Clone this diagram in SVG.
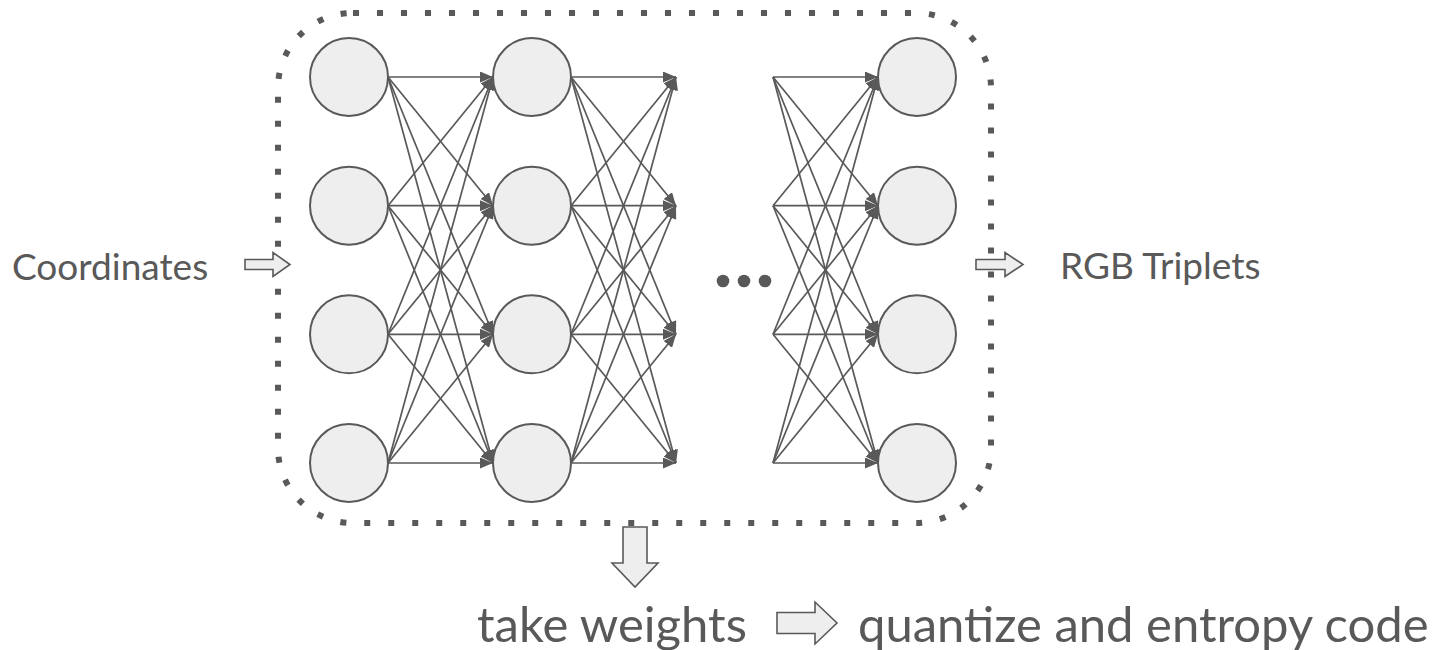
<svg xmlns="http://www.w3.org/2000/svg" width="1437" height="650" viewBox="0 0 1437 650">
<defs>
<marker id="ah" markerUnits="userSpaceOnUse" markerWidth="14" markerHeight="11" refX="13" refY="5.5" orient="auto">
<path d="M0,0 L13,5.5 L0,11 z" fill="#595959"/>
</marker>
<style>
.n{fill:#eeeeee;stroke:#595959;stroke-width:2}
.c line{stroke:#595959;stroke-width:1.7}
.a line{marker-end:url(#ah)}
.b{fill:#eeeeee;stroke:#595959;stroke-width:1.6;stroke-linejoin:miter}
.t{font-family:Lato,"Open Sans",sans-serif;fill:#595959}
</style>
</defs>
<rect width="1437" height="650" fill="#ffffff"/>
<g id="frame">
<rect x="278" y="13" width="713" height="510" rx="75" ry="75" fill="none" stroke="#595959" stroke-width="6" stroke-dasharray="6 18"/>
</g>
<g id="connectors" class="c">
<g class="a">
<line x1="388" y1="77" x2="493" y2="77"/><line x1="388" y1="77" x2="493" y2="205.7"/><line x1="388" y1="77" x2="493" y2="334.3"/><line x1="388" y1="77" x2="493" y2="463"/>
<line x1="388" y1="205.7" x2="493" y2="77"/><line x1="388" y1="205.7" x2="493" y2="205.7"/><line x1="388" y1="205.7" x2="493" y2="334.3"/><line x1="388" y1="205.7" x2="493" y2="463"/>
<line x1="388" y1="334.3" x2="493" y2="77"/><line x1="388" y1="334.3" x2="493" y2="205.7"/><line x1="388" y1="334.3" x2="493" y2="334.3"/><line x1="388" y1="334.3" x2="493" y2="463"/>
<line x1="388" y1="463" x2="493" y2="77"/><line x1="388" y1="463" x2="493" y2="205.7"/><line x1="388" y1="463" x2="493" y2="334.3"/><line x1="388" y1="463" x2="493" y2="463"/>
<line x1="571" y1="77" x2="676" y2="77"/><line x1="571" y1="77" x2="676" y2="205.7"/><line x1="571" y1="77" x2="676" y2="334.3"/><line x1="571" y1="77" x2="676" y2="463"/>
<line x1="571" y1="205.7" x2="676" y2="77"/><line x1="571" y1="205.7" x2="676" y2="205.7"/><line x1="571" y1="205.7" x2="676" y2="334.3"/><line x1="571" y1="205.7" x2="676" y2="463"/>
<line x1="571" y1="334.3" x2="676" y2="77"/><line x1="571" y1="334.3" x2="676" y2="205.7"/><line x1="571" y1="334.3" x2="676" y2="334.3"/><line x1="571" y1="334.3" x2="676" y2="463"/>
<line x1="571" y1="463" x2="676" y2="77"/><line x1="571" y1="463" x2="676" y2="205.7"/><line x1="571" y1="463" x2="676" y2="334.3"/><line x1="571" y1="463" x2="676" y2="463"/>
<line x1="773" y1="77" x2="878" y2="77"/><line x1="773" y1="77" x2="878" y2="205.7"/><line x1="773" y1="77" x2="878" y2="334.3"/><line x1="773" y1="77" x2="878" y2="463"/>
<line x1="773" y1="205.7" x2="878" y2="77"/><line x1="773" y1="205.7" x2="878" y2="205.7"/><line x1="773" y1="205.7" x2="878" y2="334.3"/><line x1="773" y1="205.7" x2="878" y2="463"/>
<line x1="773" y1="334.3" x2="878" y2="77"/><line x1="773" y1="334.3" x2="878" y2="205.7"/><line x1="773" y1="334.3" x2="878" y2="334.3"/><line x1="773" y1="334.3" x2="878" y2="463"/>
<line x1="773" y1="463" x2="878" y2="77"/><line x1="773" y1="463" x2="878" y2="205.7"/><line x1="773" y1="463" x2="878" y2="334.3"/><line x1="773" y1="463" x2="878" y2="463"/>
</g>
</g>
<g id="layer1">
<circle class="n" cx="349" cy="77" r="39"/><circle class="n" cx="349" cy="205.7" r="39"/><circle class="n" cx="349" cy="334.3" r="39"/><circle class="n" cx="349" cy="463" r="39"/>
</g>
<g id="layer2">
<circle class="n" cx="532" cy="77" r="39"/><circle class="n" cx="532" cy="205.7" r="39"/><circle class="n" cx="532" cy="334.3" r="39"/><circle class="n" cx="532" cy="463" r="39"/>
</g>
<g id="layer4">
<circle class="n" cx="917" cy="77" r="39"/><circle class="n" cx="917" cy="205.7" r="39"/><circle class="n" cx="917" cy="334.3" r="39"/><circle class="n" cx="917" cy="463" r="39"/>
</g>
<g id="ellipsis" fill="#595959">
<circle cx="723" cy="281" r="6.3"/><circle cx="744" cy="281" r="6.3"/><circle cx="765" cy="281" r="6.3"/>
</g>
<g id="input">
<text class="t" x="12" y="280" font-size="37">Coordinates</text>
<polygon class="b" points="245,259.5 273,259.5 273,252.5 290,264.5 273,276.5 273,269.5 245,269.5"/>
</g>
<g id="output">
<polygon class="b" points="976,259.5 1005,259.5 1005,252.5 1023,264.5 1005,276.5 1005,269.5 976,269.5"/>
<text class="t" x="1060" y="279" font-size="37">RGB Triplets</text>
</g>
<g id="weights">
<polygon class="b" points="623,527 647,527 647,563 658,563 635,587 612,563 623,563"/>
<text class="t" x="477" y="642" font-size="49">take weights</text>
</g>
<g id="compress">
<polygon class="b" points="777,612.5 815,612.5 815,602 837,623 815,644 815,633.5 777,633.5"/>
<text class="t" x="858" y="642" font-size="49">quantize and entropy code</text>
</g>
</svg>
